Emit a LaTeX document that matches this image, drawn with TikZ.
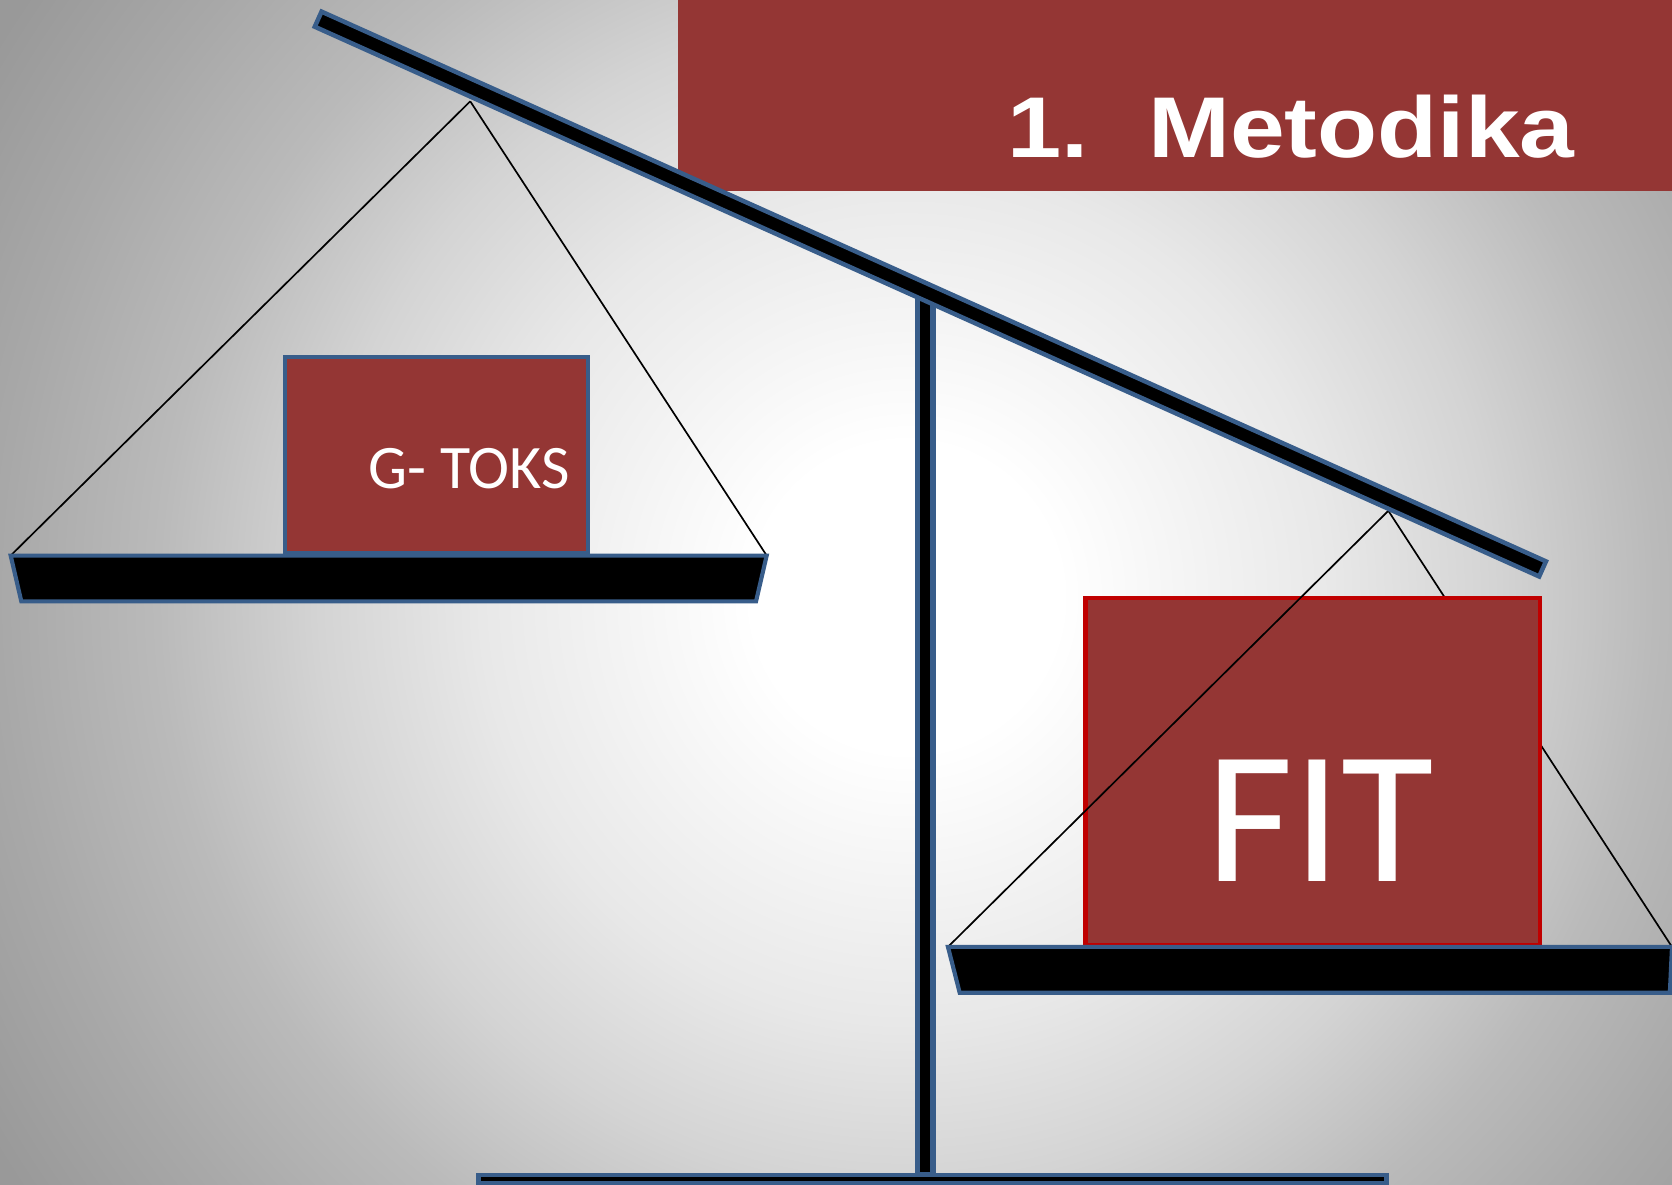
\documentclass[tikz,border=0pt]{standalone}
\usepackage{fontspec}
\usepackage{tikz}
\usetikzlibrary{calc}
\newfontfamily\titlefont{Liberation Sans}
\newfontfamily\weightfont{Carlito}
\definecolor{scaleblue}{HTML}{385D8A}
\definecolor{boxred}{HTML}{943634}
\definecolor{fitred}{HTML}{C00000}
\pgfdeclareradialshading{bgglow}{\pgfpointorigin}{rgb(0bp)=(1,1,1); rgb(3bp)=(1,1,1); rgb(8.3bp)=(0.91,0.91,0.91); rgb(11.5bp)=(0.83,0.83,0.83); rgb(14.6bp)=(0.73,0.73,0.73); rgb(17.7bp)=(0.66,0.66,0.66); rgb(20.8bp)=(0.6,0.6,0.6); rgb(25bp)=(0.58,0.58,0.58); rgb(50bp)=(0.58,0.58,0.58)}
\tikzset{bar/.style={draw=scaleblue,fill=black,line width=1.1pt},cord/.style={line width=.45pt},wt/.style={fill=boxred,draw=scaleblue,line width=1.1pt,inner sep=0pt},lbl/.style={text=white,inner sep=0pt}}
\tikzset{fatwt/.style={wt,draw=fitred},post/.style={bar,line width=1.5pt}}

\begin{document}
\begin{tikzpicture}[x=0.01cm,y=-0.01cm]
  \useasboundingbox (0,0) rectangle (1568,1111);
  \begin{scope}
    \clip (0,0) rectangle (1568,1111);
    \shade[shading=bgglow] (850,560) circle [radius=12cm];
  \end{scope}
  \node[fill=boxred,inner sep=0pt,anchor=north west,minimum width=9.4cm,minimum height=1.83cm] (title) at (635,-5) {};
  \node[lbl,anchor=base west,xscale=1.13,font=\titlefont\bfseries\fontsize{23}{23}\selectfont] (tnum) at (944,148) {1.};
  \node[lbl,anchor=base west,xscale=1.14,font=\titlefont\bfseries\fontsize{23}{23}\selectfont] (tword) at (1076,148) {Metodika};
  \coordinate (lhook) at (441,95);
  \coordinate (rhook) at (1302,479);
  \coordinate (lpl) at (10,521);
  \coordinate (lpr) at (719,521);
  \coordinate (rpl) at (889,888);
  \coordinate (rpr) at (1568,888);
  \draw[cord] (lhook) edge (lpl) edge (lpr);
  \node[wt,anchor=south west,minimum width=2.84cm,minimum height=1.84cm] (gtoks) at (265,521) {};
  \node[lbl,anchor=base east,font=\weightfont\fontsize{16.5}{16.5}\selectfont] (gtokslbl) at (535,458) {G- TOKS};
  \draw[bar] (lpl) -- (lpr) -- (709,564) -- (20,564) -- cycle;
  \draw[cord] (rhook) -- (rpr);
  \node[fatwt,anchor=south west,minimum width=4.26cm,minimum height=3.25cm] (fit) at (1016,888) {};
  \node[lbl,anchor=base west,font=\weightfont\fontsize{50.5}{50.5}\selectfont] (fitlbl) at (1131,827) {FIT};
  \draw[cord] (rhook) -- (rpl);
  \draw[bar] (rpl) -- (rpr) -- (1566,931) -- (900,931) -- cycle;
  \draw[post] (860.5,276) rectangle (875.2,1102);
  \node[bar,line width=1.2pt,inner sep=0pt,rotate=-24.18,minimum width=12.58cm,minimum height=0.155cm] (beam) at (872.5,275.75) {};
  \draw[bar] (448.75,1102) rectangle (1300.25,1109.5);
\end{tikzpicture}
\end{document}
